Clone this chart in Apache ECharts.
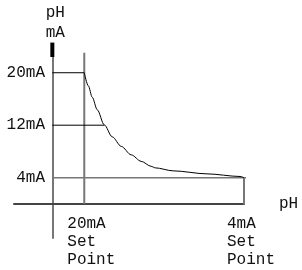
<!DOCTYPE html>
<html>
<head>
<meta charset="utf-8">
<script src="https://cdn.jsdelivr.net/npm/echarts@6/dist/echarts.min.js"></script>
<style>
  html, body { margin: 0; padding: 0; background: #fff; }
  #chart { width: 302px; height: 270px; }
</style>
</head>
<body>
<div id="chart"></div>
<script>
// x: 0 = mA axis, 1 = 20mA set point, 6 = 4mA set point
const setPoints = [1, 6];
const setPointLabels = ['20mA\nSet\nPoint', '4mA\nSet\nPoint'];
const mATicks = [4, 12, 20];

// output curve (x, mA)
const curve = [
    [1, 20], [1.125, 18.02], [1.25, 16.26], [1.406, 14.35], [1.625, 12.06],
    [1.875, 10.23], [2.156, 8.78], [2.469, 7.48], [2.781, 6.49], [3.094, 5.73],
    [3.219, 5.5], [3.781, 5.04], [4.844, 4.58], [5.875, 4.18], [6, 4]
];
const line20 = [[0, 20], [1, 20]];
const line12 = [[0, 12], [1.625, 12]];
const line4 = [[0, 4], [6.88, 4]];
const vLine20 = [[1, 0], [1, 23.05]];
const vLine4 = [[6, 0], [6, 4]];
const yMarker = [[0, 22.4], [0, 24.6]];
const xMarker = [[6.28, 0], [6.72, 0]];

const font = 'Liberation Mono';

function seg(data, color, width, smooth) {
    return {
        type: 'line',
        data: data,
        smooth: smooth || false,
        smoothMonotone: 'x',
        showSymbol: false,
        silent: true,
        clip: false,
        lineStyle: { color: color, width: width },
    };
}

const chart = echarts.init(document.getElementById('chart'));

chart.setOption({
    animation: false,
    grid: { left: 14, width: 230, top: 57, bottom: 32, containLabel: false, outerBoundsMode: 'none' },
    xAxis: {
        type: 'value',
        min: -1.2,
        max: 6,
        name: 'pH',
        nameLocation: 'end',
        nameGap: 35,
        nameTextStyle: { fontFamily: font, fontSize: 16, color: '#111' },
        axisLine: { onZero: true, lineStyle: { color: '#444', width: 2 } },
        axisTick: { show: false },
        splitLine: { show: false },
        axisLabel: {
            customValues: setPoints,
            formatter: v => setPointLabels[setPoints.indexOf(v)],
            align: 'left',
            padding: [0, 0, 0, -17],
            // labels sit under the zero line, not the grid edge
            margin: -23,
            lineHeight: 18,
            fontFamily: font,
            fontSize: 16,
            color: '#111',
        },
    },
    yAxis: {
        type: 'value',
        min: -5.2,
        max: 22.4,
        name: 'pH\nmA',
        nameLocation: 'end',
        nameGap: 14,
        nameTextStyle: { fontFamily: font, fontSize: 16, color: '#111', lineHeight: 20, padding: [0, 0, 0, 6] },
        axisLine: { onZero: true, lineStyle: { color: '#777', width: 2 } },
        axisTick: { show: false },
        splitLine: { show: false },
        axisLabel: {
            customValues: mATicks,
            formatter: v => v + 'mA',
            margin: -31,
            fontFamily: font,
            fontSize: 16,
            color: '#111',
        },
    },
    series: [
        seg(line4, '#777', 1.5),
        seg(vLine20, '#777', 2),
        seg(vLine4, '#777', 2),
        seg(line20, '#000', 1),
        seg(line12, '#000', 1),
        seg(curve, '#000', 1, 0.3),
        seg(yMarker, '#000', 4),
        seg(xMarker, '#000', 4),
    ],
});
</script>
</body>
</html>
